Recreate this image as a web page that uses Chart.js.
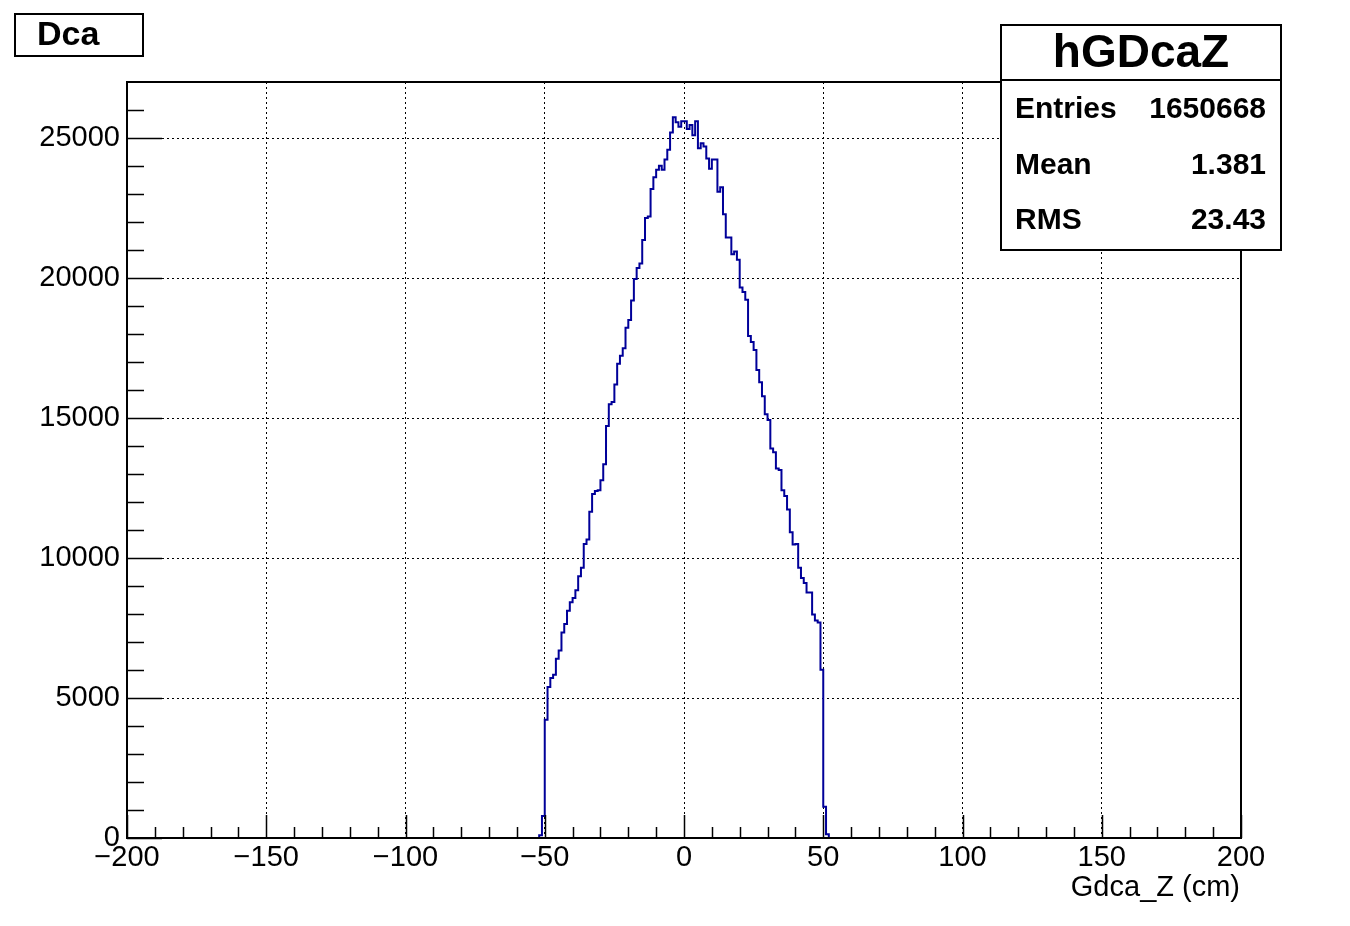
<!DOCTYPE html>
<html>
<head>
<meta charset="utf-8">
<title>hGDcaZ</title>
<script src="https://cdn.jsdelivr.net/npm/chart.js@4.4.1/dist/chart.umd.min.js"></script>
<style>
  html, body { margin: 0; padding: 0; background: #fff; }
  #wrap { width: 1350px; height: 926px; }
</style>
</head>
<body>
<div id="wrap"><canvas id="c" width="1350" height="926"></canvas></div>
<script>
// hGDcaZ bin contents, 1 cm bins, first filled bin starts at -52 cm
const firstBinEdge = -52;
const binWidth = 1;
const counts = [
  100, 790, 4220, 5390, 5710, 5830, 6400, 6700, 7340, 7640,
  8120, 8420, 8570, 8850, 9350, 9650, 10500, 10660, 11650, 12290,
  12390, 12420, 12780, 13350, 14710, 15490, 15570, 16200, 16940, 17220,
  17490, 18220, 18500, 19200, 19960, 20360, 20520, 21360, 22140, 22200,
  23180, 23600, 23870, 24010, 23870, 24230, 24580, 25200, 25740, 25560,
  25400, 25600, 25600, 25320, 25460, 25100, 25600, 24630, 24810, 24700,
  24270, 23900, 24230, 24230, 23080, 23240, 22280, 21450, 21450, 20850,
  20950, 20650, 19660, 19500, 19220, 17930, 17710, 17430, 16710, 16280,
  15780, 15130, 14930, 13910, 13780, 13200, 13140, 12420, 12210, 11730,
  10920, 10480, 10500, 9650, 9290, 9110, 8770, 8770, 7980, 7770,
  7700, 6010, 1120, 130
];

const xTicks = [-200, -150, -100, -50, 0, 50, 100, 150, 200];
const xTickLabels = ['\u2212200', '\u2212150', '\u2212100', '\u221250', '0', '50', '100', '150', '200'];
const yTicks = [0, 5000, 10000, 15000, 20000, 25000];
const yTickLabels = ['0', '5000', '10000', '15000', '20000', '25000'];
const xMinorStep = 10;
const yMinorStep = 1000;

const histTitle = 'Dca';
const xTitle = 'Gdca_Z (cm)';
const statsName = 'hGDcaZ';
const statsRows = [
  ['Entries', '1650668'],
  ['Mean', '1.381'],
  ['RMS', '23.43']
];

const FONT = '"Liberation Sans", Arial, Helvetica, sans-serif';

// stepped outline: start and end on the baseline
const points = [{ x: firstBinEdge, y: 0 }];
counts.forEach((c, i) => points.push({ x: firstBinEdge + (i + 1) * binWidth, y: c }));
points.push({ x: firstBinEdge + counts.length * binWidth, y: 0 });

const rootDecor = {
  id: 'rootDecor',
  afterDraw(chart) {
    const ctx = chart.ctx;
    const area = chart.chartArea;
    const xs = chart.scales.x;
    const ys = chart.scales.y;
    ctx.save();

    // frame
    ctx.strokeStyle = '#000';
    ctx.lineWidth = 2;
    ctx.strokeRect(area.left, area.top, area.right - area.left, area.bottom - area.top);

    // inward ticks
    ctx.lineWidth = 1.5;
    ctx.beginPath();
    for (let v = xs.min; v <= xs.max; v += xMinorStep) {
      const len = v % 50 === 0 ? 23 : 11;
      const px = Math.round(xs.getPixelForValue(v)) + 0.5;
      ctx.moveTo(px, area.bottom);
      ctx.lineTo(px, area.bottom - len);
    }
    for (let v = 0; v < ys.max; v += yMinorStep) {
      const len = v % 5000 === 0 ? 35 : 17;
      const py = Math.round(ys.getPixelForValue(v)) + 0.5;
      ctx.moveTo(area.left, py);
      ctx.lineTo(area.left + len, py);
    }
    ctx.stroke();

    // x axis title
    ctx.fillStyle = '#000';
    ctx.font = '29px ' + FONT;
    ctx.textAlign = 'right';
    ctx.textBaseline = 'middle';
    ctx.fillText(xTitle, area.right - 1, 888);

    // title box
    ctx.lineWidth = 2;
    ctx.fillStyle = '#fff';
    ctx.fillRect(15, 14, 128, 42);
    ctx.strokeRect(15, 14, 128, 42);
    ctx.fillStyle = '#000';
    ctx.font = 'bold 34px ' + FONT;
    ctx.textAlign = 'left';
    ctx.fillText(histTitle, 37, 36);

    // stats box
    ctx.fillStyle = '#fff';
    ctx.fillRect(1001, 25, 280, 225);
    ctx.strokeRect(1001, 25, 280, 225);
    ctx.beginPath();
    ctx.moveTo(1001, 80);
    ctx.lineTo(1281, 80);
    ctx.stroke();
    ctx.fillStyle = '#000';
    ctx.font = 'bold 46px ' + FONT;
    ctx.textAlign = 'center';
    ctx.fillText(statsName, 1141, 54);
    ctx.font = 'bold 30px ' + FONT;
    statsRows.forEach((row, i) => {
      const y = 110 + i * 55.5;
      ctx.textAlign = 'left';
      ctx.fillText(row[0], 1015, y);
      ctx.textAlign = 'right';
      ctx.fillText(row[1], 1266, y);
    });

    ctx.restore();
  }
};

new Chart(document.getElementById('c'), {
  type: 'line',
  data: {
    datasets: [{
      data: points,
      stepped: 'after',
      borderColor: '#000099',
      borderWidth: 2,
      pointRadius: 0,
      fill: false,
      tension: 0
    }]
  },
  options: {
    responsive: false,
    animation: false,
    devicePixelRatio: 1,
    layout: { padding: { left: 0, right: 109, top: 82, bottom: 0 } },
    plugins: {
      legend: { display: false },
      tooltip: { enabled: false }
    },
    scales: {
      x: {
        type: 'linear',
        min: -200,
        max: 200,
        afterBuildTicks: (s) => { s.ticks = xTicks.map(v => ({ value: v })); },
        afterFit: (s) => { s.height = 88; },
        ticks: {
          callback: (v) => xTickLabels[xTicks.indexOf(v)],
          color: '#000',
          font: { family: FONT, size: 29 },
          padding: 3,
          maxRotation: 0,
          autoSkip: false
        },
        grid: { color: '#000', lineWidth: 1, drawTicks: false },
        border: { display: false, dash: [2, 3] }
      },
      y: {
        type: 'linear',
        min: 0,
        max: 27000,
        afterBuildTicks: (s) => { s.ticks = yTicks.map(v => ({ value: v })); },
        afterFit: (s) => { s.width = 127; },
        ticks: {
          callback: (v) => yTickLabels[yTicks.indexOf(v)],
          color: '#000',
          font: { family: FONT, size: 29 },
          padding: 7,
          autoSkip: false
        },
        grid: { color: '#000', lineWidth: 1, drawTicks: false },
        border: { display: false, dash: [2, 3] }
      }
    }
  },
  plugins: [rootDecor]
});
</script>
</body>
</html>
